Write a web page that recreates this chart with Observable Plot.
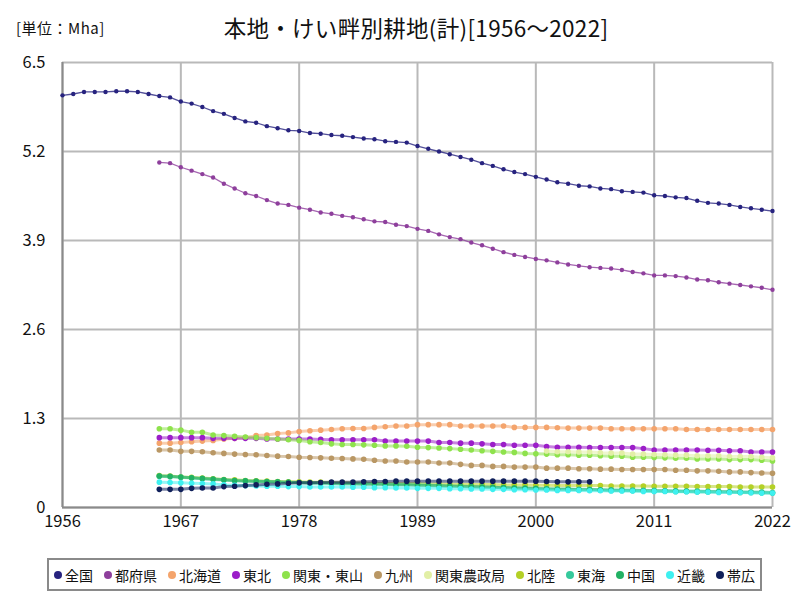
<!DOCTYPE html>
<html>
<head>
<meta charset="utf-8">
<script src="https://cdn.jsdelivr.net/npm/d3@7"></script>
<script src="https://cdn.jsdelivr.net/npm/@observablehq/plot@0.6"></script>
<style>
  body { margin: 0; background: #fff; font-family: "Noto Sans CJK JP", "Noto Sans", sans-serif; }
  #wrap { position: relative; width: 800px; height: 600px; overflow: hidden; background: #fff; }
  #wrap svg { position: absolute; left: 0; top: 0; }
  #title { position: absolute; left: 0; width: 832px; top: 11px; text-align: center; font-size: 22.5px; color: #111; line-height: 32px; letter-spacing: 0.3px; }
  #unit { position: absolute; left: 16px; top: 17px; font-size: 15px; color: #111; line-height: 22px; letter-spacing: 0.5px; }
  #legend { position: absolute; left: 47px; top: 558px; width: 706px; height: 29px; border: 2px solid #8a8a8a; display: flex; align-items: center; padding-left: 5px; box-sizing: content-box; }
  .item { display: flex; align-items: center; margin-right: 11px; font-size: 14px; color: #111; white-space: nowrap; }
  .dot { width: 8px; height: 8px; border-radius: 50%; margin-right: 3px; }
</style>
</head>
<body>
<div id="wrap">
  <div id="unit">[単位：Mha]</div>
  <div id="title">本地・けい畔別耕地(計)[1956～2022]</div>
  <div id="legend"></div>
</div>
<script>
const seriesNames = ["全国","都府県","北海道","東北","関東・東山","九州","関東農政局","北陸","東海","中国","近畿","帯広"];
const seriesColors = ["#27237f","#8e3f9c","#f4a46c","#9b1ec8","#8ee24c","#b99764","#e2efa6","#b4d026","#35c99c","#22b163","#3ef0f0","#0f1f5a"];
const xTicks = [1956,1967,1978,1989,2000,2011,2022];
const yTicks = [0,1.3,2.6,3.9,5.2,6.5];

// 全国 1956-2022
const zenkoku = [6.02,6.04,6.07,6.07,6.07,6.08,6.08,6.07,6.04,6.01,5.99,
 5.93,5.90,5.85,5.79,5.75,5.69,5.64,5.62,5.57,5.54,5.51,5.50,5.47,5.46,5.44,5.43,5.41,5.39,
 5.38,5.35,5.34,5.33,5.28,5.24,5.20,5.16,5.12,5.08,5.03,4.99,4.94,4.90,4.87,4.83,4.79,4.75,
 4.73,4.70,4.69,4.66,4.65,4.62,4.61,4.60,4.56,4.55,4.53,4.52,4.48,4.45,4.44,4.42,4.39,4.37,4.35,4.33];
// 1965-2022
const tofuken = [5.04,5.03,4.97,4.92,4.87, 4.82,4.73,4.66,4.59,4.55, 4.49,4.44,4.42,4.38,4.35, 4.31,4.29,4.26,4.24,4.21,
 4.18,4.17,4.13,4.11,4.07, 4.04,3.99,3.95,3.92,3.87, 3.83,3.78,3.73,3.69,3.66, 3.63,3.61,3.58,3.55,3.53,
 3.51,3.50,3.49,3.47,3.44, 3.42,3.39,3.39,3.38,3.36, 3.33,3.32,3.29,3.27,3.25, 3.23,3.21,3.18];
const hokkaido = [0.94,0.94,0.95,0.96,0.97, 0.98,1.00,1.01,1.02,1.05, 1.06,1.08,1.09,1.11,1.12, 1.13,1.14,1.15,1.155,1.155,
 1.17,1.18,1.19,1.19,1.21, 1.21,1.21,1.21,1.19,1.19, 1.19,1.19,1.19,1.17,1.17, 1.17,1.17,1.165,1.16,1.16,
 1.16,1.16,1.15,1.15,1.15, 1.15,1.15,1.15,1.15,1.14, 1.14,1.14,1.14,1.14,1.14, 1.14,1.14,1.14];
const tohoku = [1.02,1.02,1.02,1.02,1.02, 1.01,1.01,1.01,1.01,1.01, 1.00,1.00,1.00,1.00,1.00, 0.995,0.99,0.99,0.99,0.99,
 0.99,0.97,0.97,0.97,0.97, 0.97,0.95,0.95,0.94,0.94, 0.93,0.92,0.92,0.91,0.91, 0.91,0.89,0.88,0.88,0.88,
 0.875,0.875,0.875,0.875,0.875, 0.86,0.84,0.84,0.84,0.84, 0.84,0.835,0.835,0.83,0.83, 0.81,0.81,0.81];
const kantoTozan = [1.15,1.15,1.13,1.10,1.10, 1.06,1.05,1.04,1.03,1.02, 1.01,1.00,0.99,0.98,0.96, 0.95,0.93,0.92,0.92,0.915,
 0.91,0.90,0.90,0.895,0.88, 0.875,0.87,0.86,0.85,0.84, 0.83,0.82,0.81,0.805,0.79, 0.785,0.78,0.77,0.77,0.765,
 0.765,0.755,0.75,0.75,0.735, 0.735,0.73,0.725,0.72,0.72, 0.71,0.71,0.71,0.70,0.70, 0.70,0.69,0.68];
const kyushu = [0.84,0.84,0.82,0.82,0.815, 0.80,0.79,0.78,0.775,0.77, 0.76,0.75,0.745,0.735,0.73, 0.725,0.72,0.715,0.71,0.705,
 0.69,0.68,0.68,0.665,0.665, 0.665,0.65,0.65,0.63,0.615, 0.615,0.60,0.60,0.59,0.59, 0.59,0.575,0.575,0.575,0.565,
 0.565,0.56,0.56,0.555,0.555, 0.555,0.555,0.555,0.545,0.545, 0.535,0.535,0.53,0.52,0.52, 0.51,0.505,0.50];
// 関東農政局 2001-2022
const kantoNoseikyoku = [0.825,0.815,0.815,0.81,0.81,0.80,0.795,0.795,0.78,0.78,0.775,0.77,0.765,0.765,0.755,0.755,0.755,0.745,0.745,0.745,0.735,0.725];
const hokuriku = [0.465,0.46,0.445,0.44,0.43, 0.42,0.41,0.405,0.395,0.39, 0.385,0.38,0.375,0.375,0.37, 0.37,0.365,0.365,0.36,0.36,
 0.355,0.355,0.35,0.35,0.35, 0.345,0.345,0.34,0.34,0.335, 0.335,0.335,0.33,0.33,0.33, 0.325,0.325,0.32,0.32,0.32,
 0.32,0.32,0.315,0.315,0.315, 0.315,0.31,0.31,0.31,0.31, 0.305,0.305,0.305,0.305,0.30, 0.30,0.30,0.30];
const tokai = [0.455,0.45,0.44,0.43,0.42, 0.41,0.40,0.39,0.385,0.38, 0.375,0.37,0.365,0.36,0.355, 0.355,0.35,0.345,0.345,0.34,
 0.34,0.335,0.33,0.33,0.325, 0.32,0.315,0.31,0.305,0.30, 0.30,0.295,0.29,0.285,0.285, 0.28,0.275,0.27,0.27,0.265,
 0.265,0.26,0.26,0.255,0.255, 0.25,0.25,0.245,0.245,0.24, 0.24,0.235,0.235,0.23,0.23, 0.225,0.225,0.22];
const chugoku = [0.46,0.455,0.445,0.435,0.425, 0.415,0.405,0.395,0.39,0.385, 0.38,0.375,0.37,0.365,0.36, 0.36,0.355,0.35,0.35,0.345,
 0.345,0.34,0.335,0.335,0.33, 0.325,0.32,0.315,0.31,0.305, 0.30,0.295,0.29,0.285,0.28, 0.275,0.27,0.265,0.265,0.26,
 0.26,0.255,0.25,0.25,0.245, 0.245,0.24,0.24,0.235,0.235, 0.23,0.23,0.225,0.225,0.22, 0.22,0.215,0.21];
const kinki = [0.37,0.365,0.36,0.355,0.35, 0.345,0.33,0.325,0.32,0.315, 0.31,0.31,0.305,0.305,0.30, 0.30,0.30,0.30,0.295,0.295,
 0.29,0.29,0.285,0.285,0.28, 0.28,0.28,0.275,0.275,0.27, 0.27,0.265,0.265,0.26,0.26, 0.255,0.255,0.25,0.25,0.25,
 0.245,0.245,0.24,0.24,0.24, 0.235,0.235,0.235,0.23,0.23, 0.225,0.225,0.22,0.22,0.22, 0.215,0.21,0.21];
// 帯広 1965-2005
const obihiro = [0.265,0.265,0.265,0.28,0.285, 0.285,0.305,0.31,0.32,0.33, 0.34,0.345,0.355,0.36,0.36, 0.365,0.37,0.37,0.37,0.375,
 0.38,0.38,0.385,0.385,0.385, 0.385,0.385,0.385,0.385,0.385, 0.385,0.385,0.385,0.385,0.385, 0.385,0.38,0.375,0.375,0.375, 0.375];

const seriesValues = [
  [zenkoku, 1956], [tofuken, 1965], [hokkaido, 1965], [tohoku, 1965], [kantoTozan, 1965], [kyushu, 1965],
  [kantoNoseikyoku, 2001], [hokuriku, 1965], [tokai, 1965], [chugoku, 1965], [kinki, 1965], [obihiro, 1965]
];

const rows = [];
seriesNames.forEach((name, i) => {
  const [vals, start] = seriesValues[i];
  vals.forEach((v, j) => rows.push({series: name, year: start + j, value: v}));
});
const thin = rows.filter(d => d.series === "全国" || d.series === "都府県");
const thick = rows.filter(d => !(d.series === "全国" || d.series === "都府県"));

const chart = Plot.plot({
  width: 800,
  height: 545,
  marginLeft: 62,
  marginRight: 28,
  marginTop: 62,
  marginBottom: 38,
  style: {fontFamily: '"Noto Sans CJK JP", "Noto Sans", sans-serif', fontSize: "16px", color: "#111", background: "transparent"},
  x: {domain: [1956, 2022], label: null},
  y: {domain: [0, 6.5], label: null},
  color: {domain: seriesNames, range: seriesColors},
  marks: [
    Plot.ruleY(yTicks, {stroke: "#b9b9b9", strokeWidth: 2}),
    Plot.ruleX(xTicks, {stroke: "#b9b9b9", strokeWidth: 2}),
    Plot.ruleX([1956], {stroke: "#8a8a8a", strokeWidth: 2}),
    Plot.ruleY([0], {stroke: "#8a8a8a", strokeWidth: 2}),
    Plot.axisX({ticks: xTicks, tickFormat: d => String(d), tickSize: 0, tickPadding: 8, fontSize: 16.5}),
    Plot.axisY({ticks: yTicks, tickFormat: d => d === 0 ? "0" : d.toFixed(1), tickSize: 0, tickPadding: 17, fontSize: 16.5}),
    Plot.line(thick, {x: "year", y: "value", z: "series", stroke: "series", strokeWidth: 3, strokeOpacity: 0.55}),
    Plot.dot(thick, {x: "year", y: "value", fill: "series", r: 2.8}),
    Plot.line(thin, {x: "year", y: "value", z: "series", stroke: "series", strokeWidth: 1.3, strokeOpacity: 0.8}),
    Plot.dot(thin, {x: "year", y: "value", fill: "series", r: 2.2})
  ]
});
document.getElementById("wrap").prepend(chart);

const legend = document.getElementById("legend");
seriesNames.forEach((name, i) => {
  const item = document.createElement("div");
  item.className = "item";
  const dot = document.createElement("span");
  dot.className = "dot";
  dot.style.background = seriesColors[i];
  const label = document.createElement("span");
  label.textContent = name;
  item.appendChild(dot);
  item.appendChild(label);
  legend.appendChild(item);
});
</script>
</body>
</html>
